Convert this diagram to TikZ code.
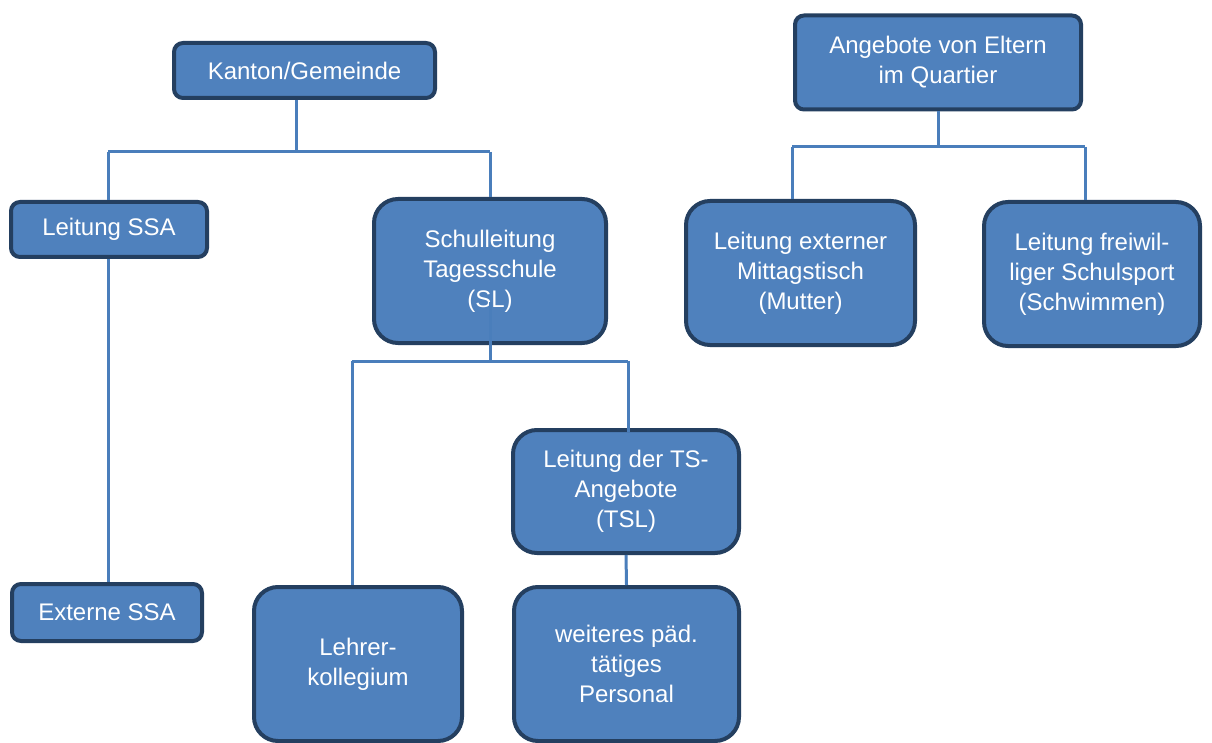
\documentclass[tikz,border=0pt]{standalone}
\usepackage{fontspec}
\setmainfont{Liberation Sans}
\definecolor{boxfill}{HTML}{4F81BD}
\definecolor{boxedge}{HTML}{243F60}
\definecolor{linkblue}{HTML}{4A7EBB}
\begin{document}
\begin{tikzpicture}[x=1pt,y=-1pt,
  orgbox/.style={draw=boxedge, line width=4pt, fill=boxfill, text=white,
    font=\fontsize{24}{30}\selectfont, align=center, inner sep=0pt},
  smallbox/.style={orgbox, rounded corners=9pt},
  bigbox/.style={orgbox, rounded corners=24pt},
  link/.style={draw=linkblue, line width=3pt}]
\useasboundingbox[fill=white] (0,0) rectangle (1212,743);

% left tree
\node[smallbox, minimum width=261pt, minimum height=55pt] (kanton) at (304.5,70.5) {Kanton/Gemeinde};
\node[smallbox, minimum width=196pt, minimum height=55pt] (ssa) at (109,229.5) {Leitung SSA};
\node[bigbox, minimum width=232pt, minimum height=144pt] (sl) at (490,271) {Schulleitung\\Tagesschule\\(SL)};
\node[smallbox, minimum width=190pt, minimum height=57pt] (extssa) at (107,612.5) {Externe SSA};
\node[bigbox, minimum width=208pt, minimum height=154pt] (lehrer) at (358,664) {Lehrer-\\kollegium};
\node[bigbox, minimum width=226pt, minimum height=123pt] (tsl) at (626,491.5) {Leitung der TS-\\Angebote\\(TSL)};
\node[bigbox, minimum width=225pt, minimum height=154pt] (personal) at (626.5,664) {weiteres päd.\\tätiges\\Personal};

% right tree
\node[smallbox, minimum width=286pt, minimum height=94pt] (eltern) at (938,62.5) {Angebote von Eltern\\im Quartier};
\node[bigbox, minimum width=229pt, minimum height=144pt] (mittag) at (800.5,273) {Leitung externer\\Mittagstisch\\(Mutter)};
\node[bigbox, minimum width=216pt, minimum height=144pt] (sport) at (1092,274) {Leitung freiwil-\\liger Schulsport\\(Schwimmen)};

% junction points of the elbow connectors
\coordinate (j1) at (296.5,152);
\coordinate (j2) at (490,361);
\coordinate (slstart) at (490,302);
\coordinate (j3) at (938,147);

\draw[link] (kanton.south -| j1) -- (j1);
\draw[link] (108,152) -- (490,152);
\draw[link] (108,152) -- (ssa.north -| 108,0);
\draw[link] (490,152) -- (sl.north);
\draw[link] (ssa.south -| 108,0) -- (extssa.north -| 108,0);

\draw[link] (slstart) -- (j2);
\draw[link] (352,361) -- (628,361);
\draw[link] (352,361) -- (lehrer.north -| 352,0);
\draw[link] (628,361) -- (628,432);
\draw[link] (tsl.south) -- (personal.north);

\draw[link] (eltern.south) -- (j3);
\draw[link] (792,147) -- (1085,147);
\draw[link] (792,147) -- (mittag.north -| 792,0);
\draw[link] (1085,147) -- (sport.north -| 1085,0);
\end{tikzpicture}
\end{document}
